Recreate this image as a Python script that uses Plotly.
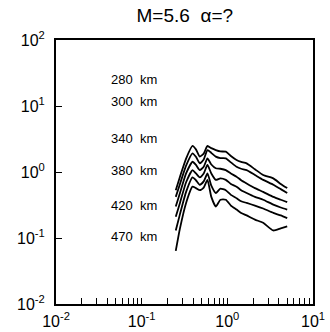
import math
import plotly.graph_objects as go

# frequency samples (Hz)
freq = [0.25, 0.28, 0.33, 0.392, 0.43, 0.477, 0.53, 0.586, 0.65, 0.733, 0.83, 0.96, 1.1, 1.28, 1.45, 1.68, 2.1, 2.62, 3.44, 4.2, 5.0]

# spectral curves, one per distance (top to bottom)
c280 = [0.53, 0.85, 1.60, 2.48, 2.20, 1.71, 1.90, 2.48, 2.30, 2.15, 2.05, 2.03, 1.75, 1.52, 1.42, 1.35, 1.10, 0.90, 0.80, 0.66, 0.57]
c300 = [0.42, 0.66, 1.25, 1.92, 1.70, 1.35, 1.55, 2.15, 1.95, 1.71, 1.62, 1.61, 1.40, 1.20, 1.12, 1.07, 0.90, 0.76, 0.64, 0.55, 0.48]
c340 = [0.30, 0.48, 0.95, 1.43, 1.28, 1.07, 1.20, 1.61, 1.30, 1.14, 1.12, 1.07, 0.95, 0.85, 0.75, 0.67, 0.57, 0.50, 0.42, 0.38, 0.35]
c380 = [0.21, 0.34, 0.70, 1.07, 0.95, 0.83, 0.95, 1.28, 0.95, 0.76, 0.80, 0.76, 0.66, 0.60, 0.53, 0.48, 0.42, 0.38, 0.32, 0.29, 0.27]
c420 = [0.13, 0.23, 0.50, 0.83, 0.75, 0.64, 0.72, 0.95, 0.62, 0.48, 0.56, 0.53, 0.45, 0.40, 0.36, 0.34, 0.31, 0.28, 0.24, 0.22, 0.20]
c470 = [0.064, 0.14, 0.34, 0.60, 0.57, 0.53, 0.58, 0.76, 0.42, 0.30, 0.38, 0.38, 0.31, 0.27, 0.24, 0.22, 0.19, 0.17, 0.13, 0.14, 0.15]
curves = [c280, c300, c340, c380, c420, c470]

labels = ["280  km", "300  km", "340  km", "380  km", "420  km", "470  km"]
label_y = [24.8, 11.6, 3.27, 1.04, 0.316, 0.107]
label_x = 0.042

title = "M=5.6  \u03b1=?"

x_ticks = [0.01, 0.1, 1, 10]
x_ticktext = ["10<sup>-2</sup>", "10<sup>-1</sup>", "10<sup>0</sup>", "10<sup>1</sup>"]
y_ticks = [0.01, 0.1, 1, 10, 100]
y_ticktext = ["10<sup>-2</sup>", "10<sup>-1</sup>", "10<sup>0</sup>", "10<sup>1</sup>", "10<sup>2</sup>"]

fig = go.Figure()
for c in curves:
    fig.add_trace(go.Scatter(x=freq, y=c, mode="lines",
                             line=dict(color="black", width=1.8, shape="spline", smoothing=0.5),
                             showlegend=False, hoverinfo="skip"))

for t, yv in zip(labels, label_y):
    fig.add_annotation(x=math.log10(label_x), y=math.log10(yv), text=t, showarrow=False,
                       xanchor="left", yanchor="middle",
                       font=dict(family="Liberation Sans, Arial", size=13, color="black"))

minor_x = [m * 10 ** k for k in (-2, -1, 0) for m in range(2, 10)]

fig.update_layout(
    width=330, height=332,
    margin=dict(l=56, r=17, t=40, b=28, autoexpand=False),
    paper_bgcolor="white", plot_bgcolor="white",
    font=dict(family="Liberation Sans, Arial", color="black"),
    title=dict(text=title, x=0.56, xanchor="center", y=1 - 15 / 332, yanchor="middle",
               yref="container", font=dict(size=19, color="black")),
    xaxis=dict(type="log", range=[-2, 1], showgrid=False, zeroline=False, automargin=False,
               showline=True, linecolor="black", linewidth=2, mirror=True,
               tickmode="array", tickvals=x_ticks, ticktext=x_ticktext,
               ticks="inside", ticklen=6, tickwidth=1.2, tickcolor="black",
               tickfont=dict(size=16), ticklabelstandoff=2,
               minor=dict(tickmode="array", tickvals=minor_x, ticks="inside",
                          ticklen=6, tickwidth=1.2, tickcolor="black", showgrid=False)),
    yaxis=dict(type="log", range=[-2, 2], showgrid=False, zeroline=False, automargin=False,
               showline=True, linecolor="black", linewidth=2, mirror=True,
               tickmode="array", tickvals=y_ticks, ticktext=y_ticktext,
               ticks="inside", ticklen=6, tickwidth=1.2, tickcolor="black",
               tickfont=dict(size=16), ticklabelstandoff=6),
)

fig.write_html("out.html")
